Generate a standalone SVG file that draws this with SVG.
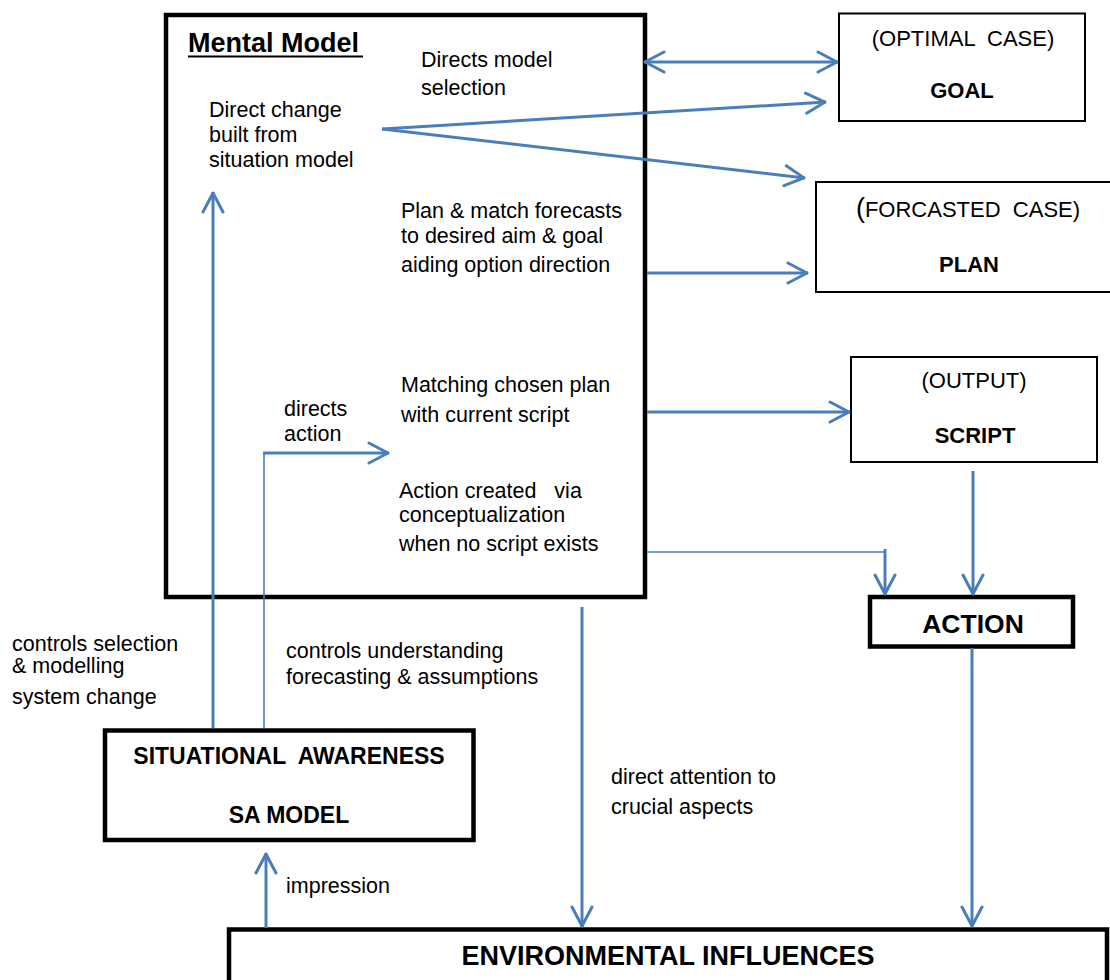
<svg xmlns="http://www.w3.org/2000/svg" width="1110" height="980" viewBox="0 0 1110 980">
  <style>
    .box { fill: #ffffff; stroke: #000000; }
    .thick { stroke-width: 4.5; }
    .thin { stroke-width: 2; }
    .t { font-family: "Liberation Sans", Arial, sans-serif; font-size: 21.5px; fill: #000000; }
    .lbl { font-family: "Liberation Sans", Arial, sans-serif; font-size: 22px; fill: #000000; text-anchor: middle; }
    .b { font-weight: bold; }
    .c { fill: none; stroke: #4A7EBB; stroke-width: 3; }
    .cthin { fill: none; stroke: #4A7EBB; stroke-width: 1.6; }
  </style>
  <defs>
    <marker id="ah" viewBox="-23 -12 25 24" refX="0" refY="0" markerWidth="25" markerHeight="24" markerUnits="userSpaceOnUse" orient="auto-start-reverse">
      <path d="M-20,-10 L-1,0 L-20,10" fill="none" stroke="#4A7EBB" stroke-width="3" stroke-linecap="round" stroke-linejoin="round"/>
    </marker>
  </defs>

  <rect x="0" y="0" width="1110" height="980" fill="#ffffff"/>

  <!-- Mental model container -->
  <g id="mental-model">
    <rect class="box thick" x="166" y="15" width="479" height="582"/>
    <text class="t b" x="188" y="52" style="font-size:27px">Mental Model</text>
    <line x1="188" y1="56.5" x2="363" y2="56.5" stroke="#000" stroke-width="2.2"/>
    <text class="t" x="421" y="67">Directs model</text>
    <text class="t" x="421" y="95">selection</text>
    <text class="t" x="209" y="117">Direct change</text>
    <text class="t" x="209" y="142">built from</text>
    <text class="t" x="209" y="167">situation model</text>
    <text class="t" x="401" y="218">Plan &amp; match forecasts</text>
    <text class="t" x="401" y="243">to desired aim &amp; goal</text>
    <text class="t" x="401" y="272">aiding option direction</text>
    <text class="t" x="401" y="392">Matching chosen plan</text>
    <text class="t" x="401" y="422">with current script</text>
    <text class="t" x="284" y="416">directs</text>
    <text class="t" x="284" y="441">action</text>
    <text class="t" x="399" y="498" xml:space="preserve">Action created   via</text>
    <text class="t" x="399" y="522">conceptualization</text>
    <text class="t" x="399" y="551">when no script exists</text>
  </g>

  <g id="goal">
    <rect class="box thin" x="839" y="13.5" width="246" height="107.5"/>
    <text class="lbl" x="963" y="46" xml:space="preserve">(OPTIMAL  CASE)</text>
    <text class="lbl b" x="962" y="98">GOAL</text>
  </g>

  <g id="plan">
    <rect class="box thin" x="816" y="182" width="296" height="110"/>
    <text class="lbl" x="968" y="217" xml:space="preserve"><tspan style="font-size:27px">(</tspan>FORCASTED  CASE)</text>
    <text class="lbl b" x="969" y="272">PLAN</text>
  </g>

  <g id="script">
    <rect class="box thin" x="851" y="357" width="246" height="105"/>
    <text class="lbl" x="974" y="388">(OUTPUT)</text>
    <text class="lbl b" x="975" y="443">SCRIPT</text>
  </g>

  <g id="action">
    <rect class="box thick" x="870" y="597" width="203" height="49.5"/>
    <text class="lbl b" x="973" y="633" style="font-size:26.5px">ACTION</text>
  </g>

  <g id="situational-awareness">
    <rect class="box thick" x="105" y="730.5" width="368.5" height="109.5"/>
    <text class="lbl b" x="289" y="764" xml:space="preserve" style="font-size:23px">SITUATIONAL  AWARENESS</text>
    <text class="lbl b" x="289" y="823" style="font-size:23px">SA MODEL</text>
  </g>

  <g id="environmental-influences">
    <rect class="box thick" x="229" y="929.5" width="878" height="80"/>
    <text class="lbl b" x="668" y="965" style="font-size:27px">ENVIRONMENTAL INFLUENCES</text>
  </g>

  <!-- free-standing connector labels -->
  <g id="edge-labels">
    <text class="t" x="12" y="651">controls selection</text>
    <text class="t" x="12" y="673">&amp; modelling</text>
    <text class="t" x="12" y="704">system change</text>
    <text class="t" x="286" y="658">controls understanding</text>
    <text class="t" x="286" y="684">forecasting &amp; assumptions</text>
    <text class="t" x="611" y="784">direct attention to</text>
    <text class="t" x="611" y="814">crucial aspects</text>
    <text class="t" x="286" y="893">impression</text>
  </g>

  <g id="connectors">
    <!-- mental model <-> goal -->
    <line class="c" x1="644" y1="62" x2="838" y2="62" marker-start="url(#ah)" marker-end="url(#ah)"/>
    <!-- fan from situation model note -->
    <line class="c" x1="382" y1="129" x2="826" y2="102" marker-end="url(#ah)"/>
    <line class="c" x1="382" y1="129" x2="805" y2="178" marker-end="url(#ah)"/>
    <!-- to plan / script -->
    <line class="c" x1="647" y1="273" x2="808" y2="273" marker-end="url(#ah)"/>
    <line class="c" x1="647" y1="412" x2="850" y2="412" marker-end="url(#ah)"/>
    <!-- conceptualised action elbow -->
    <line class="cthin" x1="647" y1="552" x2="885" y2="552"/>
    <line class="c" x1="885" y1="549" x2="885" y2="595" marker-end="url(#ah)"/>
    <!-- script -> action -->
    <line class="c" x1="973" y1="471" x2="973" y2="595" marker-end="url(#ah)"/>
    <!-- mental model -> environment -->
    <line class="c" x1="582" y1="607" x2="582" y2="927" marker-end="url(#ah)"/>
    <!-- action -> environment -->
    <line class="c" x1="972" y1="648" x2="972" y2="927" marker-end="url(#ah)"/>
    <!-- situational awareness -> mental model -->
    <line class="c" x1="213" y1="728" x2="213" y2="192" marker-end="url(#ah)"/>
    <!-- directs action elbow -->
    <line class="cthin" x1="264" y1="728" x2="264" y2="453"/>
    <line class="c" x1="263" y1="453" x2="389" y2="453" marker-end="url(#ah)"/>
    <!-- environment -> situational awareness -->
    <line class="c" x1="266" y1="928" x2="266" y2="853" marker-end="url(#ah)"/>
  </g>
</svg>
